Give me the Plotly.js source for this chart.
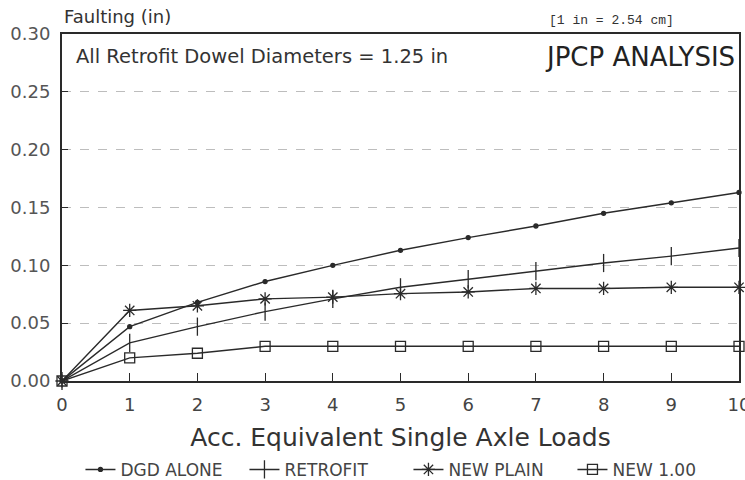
<!DOCTYPE html>
<html>
<head>
<meta charset="utf-8">
<script src="https://cdn.plot.ly/plotly-3.0.1.min.js"></script>
<style>html,body{margin:0;padding:0;background:#fff;}#chart{width:745px;height:480px;}</style>
</head>
<body>
<div id="chart"></div>
<script>
const esal = [0, 1, 2, 3, 4, 5, 6, 7, 8, 9, 10];
const dgdAlone = [0, 0.047, 0.068, 0.086, 0.100, 0.113, 0.124, 0.134, 0.145, 0.154, 0.163];
const retrofit = [0, 0.033, 0.047, 0.060, 0.071, 0.081, 0.088, 0.095, 0.102, 0.108, 0.115];
const newPlain = [0, 0.061, 0.065, 0.071, 0.0725, 0.0755, 0.077, 0.080, 0.080, 0.081, 0.081];
const new100 = [0, 0.020, 0.024, 0.030, 0.030, 0.030, 0.030, 0.030, 0.030, 0.030, 0.030];
const seriesNames = ['DGD ALONE', 'RETROFIT', 'NEW PLAIN', 'NEW 1.00'];
const yTicks = [0, 0.05, 0.10, 0.15, 0.20, 0.25, 0.30];
const yTickText = ['0.00', '0.05', '0.10', '0.15', '0.20', '0.25', '0.30'];

const ink = '#2a2a2a';
const fam = 'DejaVu Sans, sans-serif';

function tr(y, name, symbol, size) {
  return {
    x: esal, y: y, name: name, type: 'scatter', mode: 'lines+markers',
    line: {color: ink, width: 1.4},
    marker: {symbol: symbol, size: size, color: ink, line: {color: ink, width: 1.3}},
    cliponaxis: false
  };
}

const data = [
  tr(dgdAlone, seriesNames[0], 'circle', 4),
  tr(retrofit, seriesNames[1], 'line-ns-open', 13),
  tr(newPlain, seriesNames[2], 'asterisk-open', 11),
  tr(new100, seriesNames[3], 'square-open', 10)
];

const layout = {
  width: 745, height: 480,
  margin: {l: 62, r: 6, t: 34, b: 99},
  paper_bgcolor: '#fff', plot_bgcolor: '#fff',
  font: {family: fam, color: '#333'},
  showlegend: true,
  legend: {
    orientation: 'h', xref: 'container', yref: 'container',
    x: 0.108, xanchor: 'left', y: 0.021, yanchor: 'middle',
    font: {size: 17, color: '#444', family: fam}, itemwidth: 30, traceorder: 'normal',
    entrywidth: 119, entrywidthmode: 'pixels'
  },
  xaxis: {
    range: [0, 10], tickvals: esal, ticks: 'inside', ticklen: 8, tickcolor: ink,
    showline: true, linecolor: ink, linewidth: 2, mirror: true,
    showgrid: false, zeroline: false, ticklabelstandoff: 6, ticklabeloverflow: 'allow',
    tickfont: {size: 18, color: '#444', family: fam},
    title: {text: 'Acc. Equivalent Single Axle Loads', font: {size: 25, color: '#333', family: fam}, standoff: 44}
  },
  yaxis: {
    range: [0, 0.3], tickvals: yTicks, ticktext: yTickText, ticks: 'inside', ticklen: 6, tickcolor: ink,
    showline: true, linecolor: ink, linewidth: 2, mirror: true,
    showgrid: true, gridcolor: '#bdbdbd', gridwidth: 1, griddash: 'dash',
    zeroline: false, ticklabelstandoff: 6,
    tickfont: {size: 18, color: '#555', family: fam}
  },
  annotations: [
    {xref: 'paper', yref: 'paper', x: 0, y: 1, xanchor: 'left', yanchor: 'bottom', yshift: 5,
     text: 'Faulting (in)', showarrow: false, font: {size: 18, color: '#333', family: fam}},
    {xref: 'paper', yref: 'paper', x: 0.812, y: 1, xanchor: 'center', yanchor: 'bottom', yshift: 4,
     text: '[1 in = 2.54 cm]', showarrow: false, font: {size: 13, color: '#333', family: 'Liberation Mono, monospace'}},
    {xref: 'paper', yref: 'paper', x: 0.018, y: 0.935, xanchor: 'left', yanchor: 'middle',
     text: 'All Retrofit Dowel Diameters = 1.25 in', showarrow: false, font: {size: 19.5, color: '#333', family: fam}},
    {xref: 'paper', yref: 'paper', x: 0.997, y: 0.935, xanchor: 'right', yanchor: 'middle',
     text: 'JPCP ANALYSIS', showarrow: false, font: {size: 26, color: '#222', family: fam}}
  ]
};

Plotly.newPlot('chart', data, layout, {displayModeBar: false, staticPlot: true});
</script>
</body>
</html>
